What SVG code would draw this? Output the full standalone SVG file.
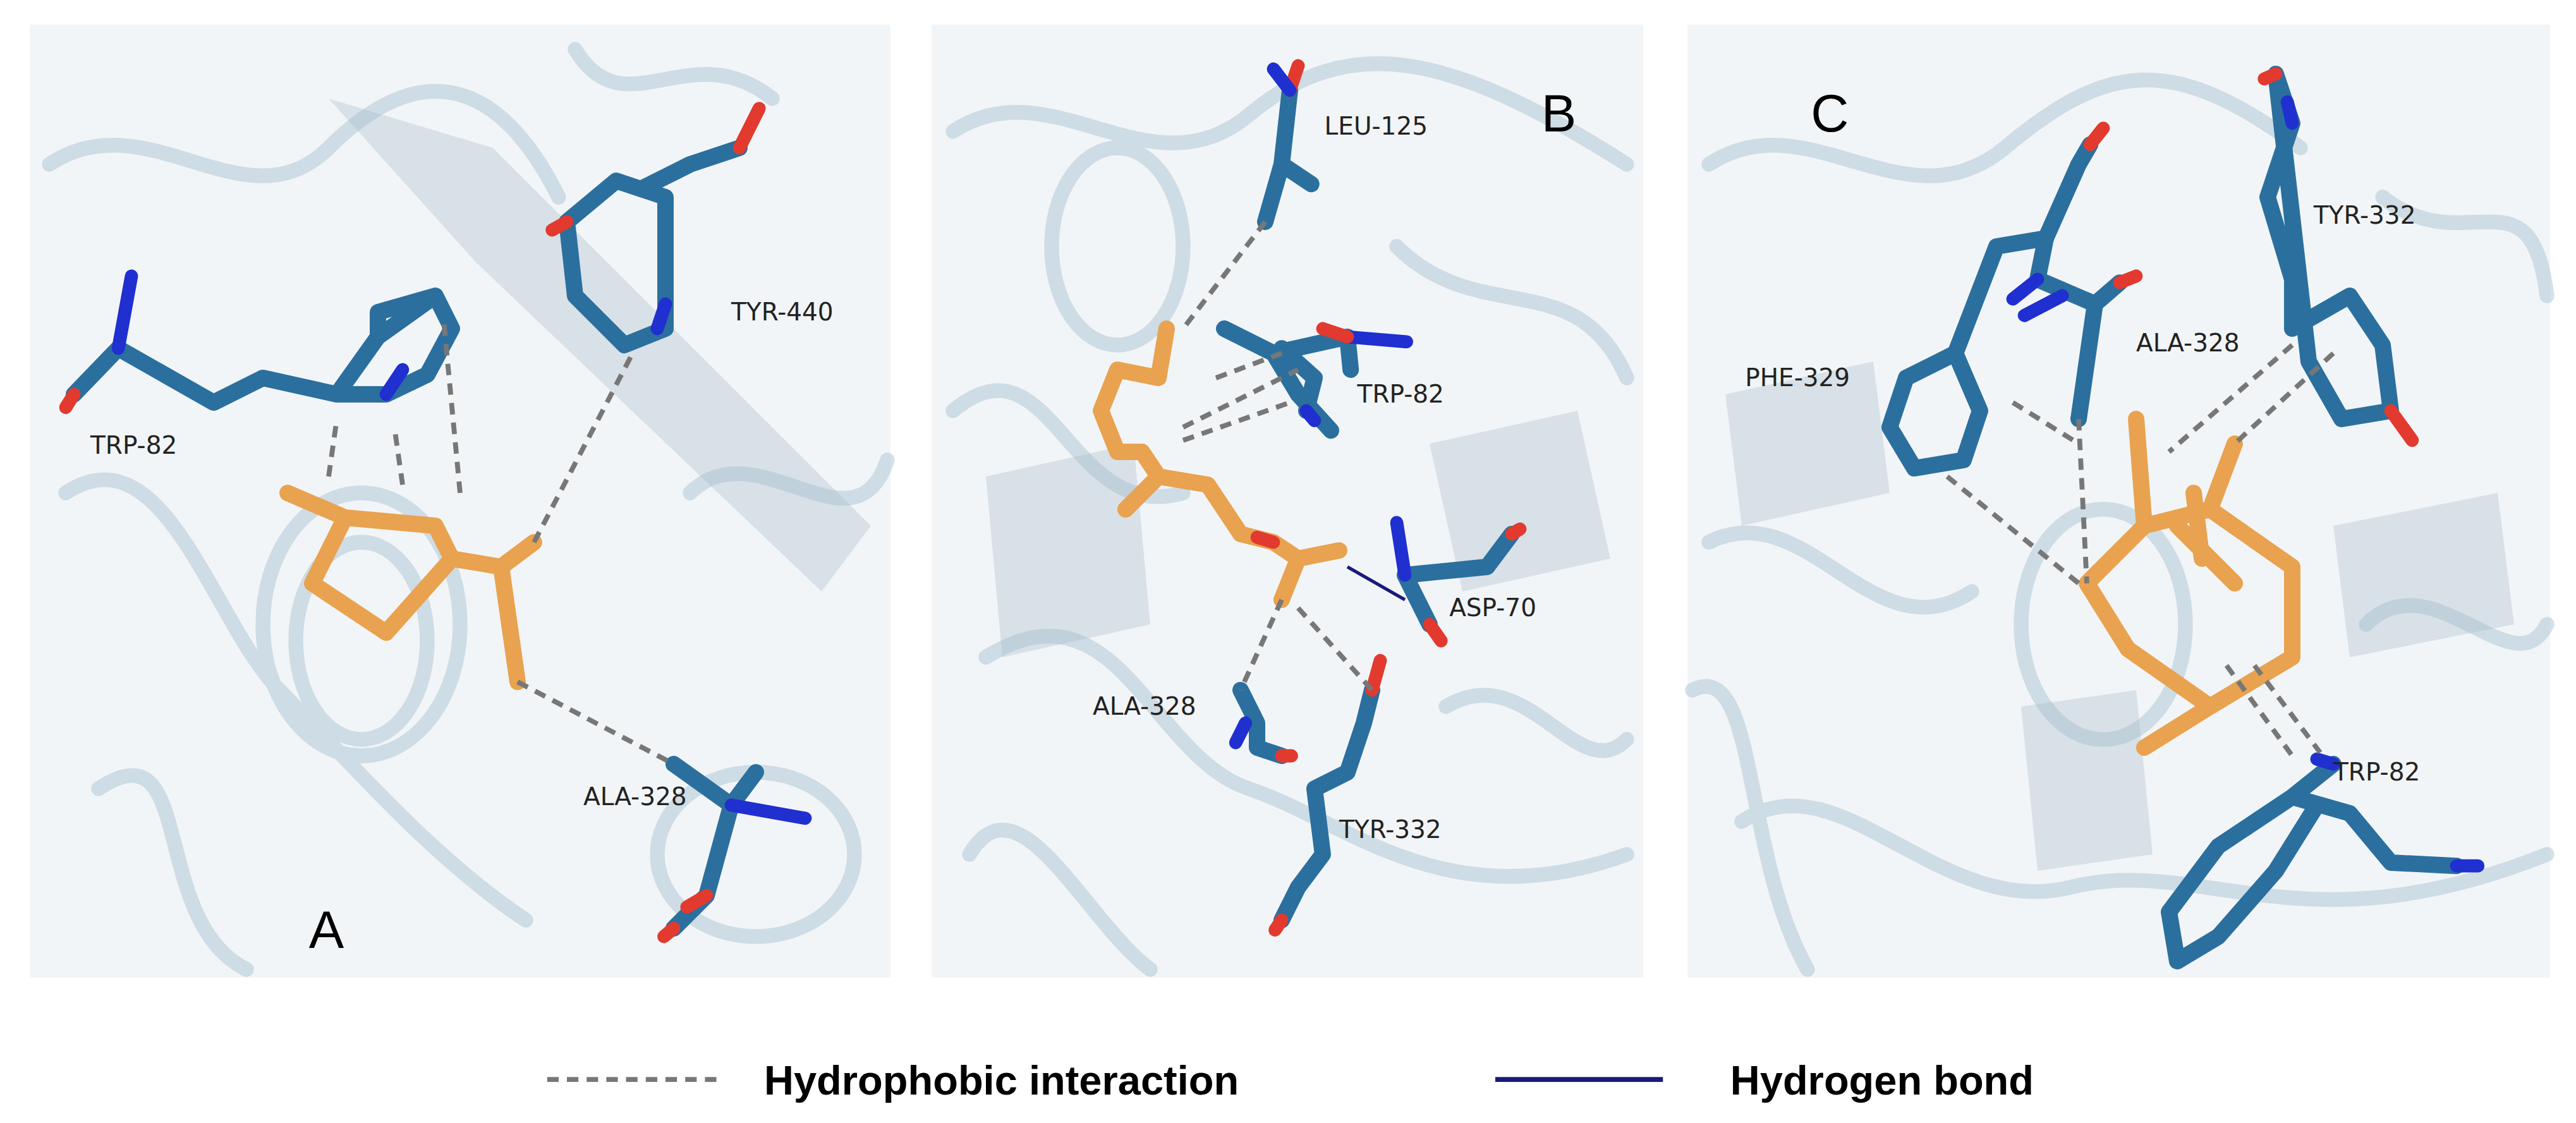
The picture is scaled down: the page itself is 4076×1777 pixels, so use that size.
<svg xmlns="http://www.w3.org/2000/svg" width="4076" height="1777" viewBox="0 0 4076 1777">
<style>
.bg{fill:#f2f5f7}
.rib{fill:none;stroke:#a9c3d4;stroke-width:9;stroke-opacity:.5;stroke-linecap:round}
.res{fill:none;stroke:#2b6f9e;stroke-width:10;stroke-linejoin:round;stroke-linecap:round}
.lig{fill:none;stroke:#e9a24f;stroke-width:10;stroke-linejoin:round;stroke-linecap:round}
.o{stroke:#e23a2e;stroke-width:8;stroke-linecap:round}
.n{stroke:#1f2fd0;stroke-width:8;stroke-linecap:round}
.hyd{stroke:#777;stroke-width:3;stroke-dasharray:7 5;fill:none}
.hb{stroke:#1a1a7a;stroke-width:2;fill:none}
.lab{font-family:"DejaVu Sans",sans-serif;font-size:15px;fill:#222}
.big{font-family:"Liberation Sans",sans-serif;font-size:32px;fill:#000}
.leg{font-family:"Liberation Sans",sans-serif;font-size:25px;font-weight:bold;fill:#000}
</style>
<rect width="4076" height="1777" fill="#fff"/>
<g transform="scale(2.6)">
<g id="panelA">
<rect class="bg" x="18" y="15" width="524" height="580"/>
<path class="rib" d="M30 100 C90 60 150 140 200 90 S300 40 340 120 M40 300 C100 260 130 380 170 420 S260 520 320 560 M160 380 a60 80 0 1 0 120 0 a60 80 0 1 0 -120 0 M180 390 a40 60 0 1 0 80 0 a40 60 0 1 0 -80 0 M400 520 a60 50 0 1 0 120 0 a60 50 0 1 0 -120 0 M420 300 C460 260 520 340 540 280 M60 480 C120 440 90 560 150 590 M350 30 C380 80 420 20 470 60"/>
<path d="M200 60 L300 90 L530 320 L500 360 L290 160 Z" fill="#a9bccb" opacity=".35"/>
<g id="trp82a"><path class="res" d="M45 240 L72 212 L130 245 L160 230 L205 240 L230 205 L265 180 L275 200 L260 228 L235 240 L205 240 M230 205 L205 240 M265 180 L230 190 L230 205"/><path class="n" d="M72 212 L80 168"/><path class="o" d="M45 240 L40 248"/><path class="n" d="M235 240 L245 225"/></g>
<g id="tyr440a"><path class="res" d="M345 135 L375 110 L405 120 L405 200 L380 210 L350 180 Z M390 115 L420 100 L450 90"/><path class="o" d="M450 90 L462 66"/><path class="o" d="M345 135 L336 140"/><path class="n" d="M405 185 L400 200"/></g>
<g id="liga"><path class="lig" d="M175 300 L210 315 L190 355 L235 385 L275 340 L265 320 L210 315 M275 340 L305 345 L325 330 M305 345 L315 415"/></g>
<g id="ala328a"><path class="res" d="M410 465 L445 490 L430 545 L410 565 M445 490 L460 470"/><path class="n" d="M445 490 L490 498"/><path class="o" d="M410 565 L404 570 M430 545 L418 552"/></g>
<g id="hydA"><path class="hyd" d="M200 290 L205 255 M245 295 L240 260 M280 300 L270 195 M325 330 L385 215 M315 415 L410 465"/></g>
<text class="lab" x="55" y="276">TRP-82</text><text class="lab" x="445" y="195">TYR-440</text><text class="lab" x="355" y="490">ALA-328</text>
<text class="big" x="188" y="577">A</text>
</g>
<g id="panelB">
<rect class="bg" x="567" y="15" width="433" height="580"/>
<path class="rib" d="M580 80 C640 40 700 120 760 70 S880 30 990 100 M580 250 C640 200 650 320 720 300 M600 400 C680 350 700 460 760 480 S880 560 990 520 M850 150 C900 200 960 160 990 230 M590 520 C620 470 660 560 700 590 M880 430 C930 400 960 480 990 450 M640 150 a40 60 0 1 0 80 0 a40 60 0 1 0 -80 0"/>
<path d="M600 290 L690 270 L700 380 L610 400 Z M870 270 L960 250 L980 340 L890 360 Z" fill="#a9bccb" opacity=".35"/>
<g id="leu125b"><path class="res" d="M785 55 L780 100 L770 135 M780 100 L798 112"/><path class="o" d="M785 55 L790 40"/><path class="n" d="M785 55 L775 42"/></g>
<g id="trp82b"><path class="res" d="M745 200 L775 215 L790 240 L810 262 M780 212 L800 230 L795 250 M775 215 L820 205 L822 225"/><path class="n" d="M820 205 L856 208"/><path class="o" d="M820 205 L805 200"/><path class="n" d="M795 250 L800 256"/></g>
<g id="ligb"><path class="lig" d="M710 200 L705 230 L680 225 L670 250 L680 275 L695 275 L705 290 L685 310 M705 290 L735 295 L755 325 L775 330 L790 340 L780 365 M790 340 L815 335"/><path class="o" d="M765 327 L775 330"/></g>
<g id="asp70b"><path class="res" d="M855 350 L905 345 L920 325 M855 350 L870 380"/><path class="n" d="M850 318 L855 350"/><path class="o" d="M920 325 L925 322 M870 380 L877 390"/></g>
<g id="ala328b"><path class="res" d="M755 420 L765 440 L765 455 L780 460"/><path class="n" d="M758 440 L752 452"/><path class="o" d="M780 460 L786 460"/></g>
<g id="tyr332b"><path class="res" d="M835 420 L830 440 L820 470 L800 480 L805 520 L790 540 L780 560"/><path class="o" d="M835 420 L840 402 M780 560 L776 566"/></g>
<g id="conB"><path class="hyd" d="M770 135 L720 200 M740 230 L780 215 M720 260 L790 225 M720 268 L785 245 M780 365 L755 420 M790 370 L835 420"/><path class="hb" d="M820 345 L855 365"/></g>
<text class="lab" x="806" y="82">LEU-125</text><text class="lab" x="826" y="245">TRP-82</text><text class="lab" x="882" y="375">ASP-70</text><text class="lab" x="665" y="435">ALA-328</text><text class="lab" x="815" y="510">TYR-332</text>
<text class="big" x="938" y="80">B</text>
</g>
<g id="panelC">
<rect class="bg" x="1027" y="15" width="525" height="580"/>
<path class="rib" d="M1040 100 C1100 60 1160 140 1220 90 S1320 30 1400 90 M1040 330 C1100 300 1140 400 1200 360 M1060 500 C1120 460 1180 560 1260 540 S1400 580 1550 520 M1450 120 C1500 160 1540 100 1550 180 M1440 380 C1480 340 1530 420 1550 380 M1030 420 C1070 400 1060 520 1100 590 M1230 380 a50 70 0 1 0 100 0 a50 70 0 1 0 -100 0"/>
<path d="M1050 240 L1140 220 L1150 300 L1060 320 Z M1420 320 L1520 300 L1530 380 L1430 400 Z M1230 430 L1300 420 L1310 520 L1240 530 Z" fill="#a9bccb" opacity=".35"/>
<g id="phe329c"><path class="res" d="M1160 230 L1190 215 L1205 250 L1195 280 L1165 285 L1150 260 Z M1190 215 L1215 150 L1245 145 L1265 100 L1272 88"/><path class="o" d="M1272 88 L1280 78"/></g>
<g id="ala328c"><path class="res" d="M1245 145 L1240 170 L1275 185 L1265 255 M1275 185 L1290 172"/><path class="n" d="M1240 170 L1225 182 M1255 180 L1232 192"/><path class="o" d="M1290 172 L1300 168"/></g>
<g id="tyr332c"><path class="res" d="M1385 45 L1395 75 L1380 120 L1395 170 L1395 200 L1430 180 L1450 210 L1455 250 L1425 255 L1405 220 Z"/><path class="o" d="M1455 250 L1468 268 M1385 45 L1378 48"/><path class="n" d="M1395 75 L1392 62"/></g>
<g id="ligc"><path class="lig" d="M1300 255 L1305 320 L1270 355 L1295 395 L1345 430 L1395 400 L1395 345 L1345 310 L1305 320 M1345 310 L1360 270 M1325 320 L1360 355 M1345 430 L1305 455 M1335 300 L1340 340"/></g>
<g id="trp82c"><path class="res" d="M1420 465 L1395 485 L1350 515 L1320 555 L1325 585 L1350 570 L1385 530 L1410 490 M1395 485 L1430 495 L1455 525 L1495 527"/><path class="n" d="M1410 462 L1420 465 M1495 527 L1508 527"/></g>
<g id="conC"><path class="hyd" d="M1185 290 L1265 355 M1265 255 L1270 355 M1225 245 L1265 270 M1395 210 L1320 275 M1420 215 L1360 270 M1355 405 L1395 460 M1372 405 L1412 458"/></g>
<text class="lab" x="1062" y="235">PHE-329</text><text class="lab" x="1300" y="214">ALA-328</text><text class="lab" x="1408" y="136">TYR-332</text><text class="lab" x="1420" y="475">TRP-82</text>
<text class="big" x="1102" y="80">C</text>
</g>
<g id="legend">
<path class="hyd" d="M333 657 L440 657"/><text class="leg" x="465" y="666">Hydrophobic interaction</text>
<path d="M910 657 L1012 657" stroke="#1a1a7a" stroke-width="3"/><text class="leg" x="1053" y="666">Hydrogen bond</text>
</g>
</g>
</svg>
